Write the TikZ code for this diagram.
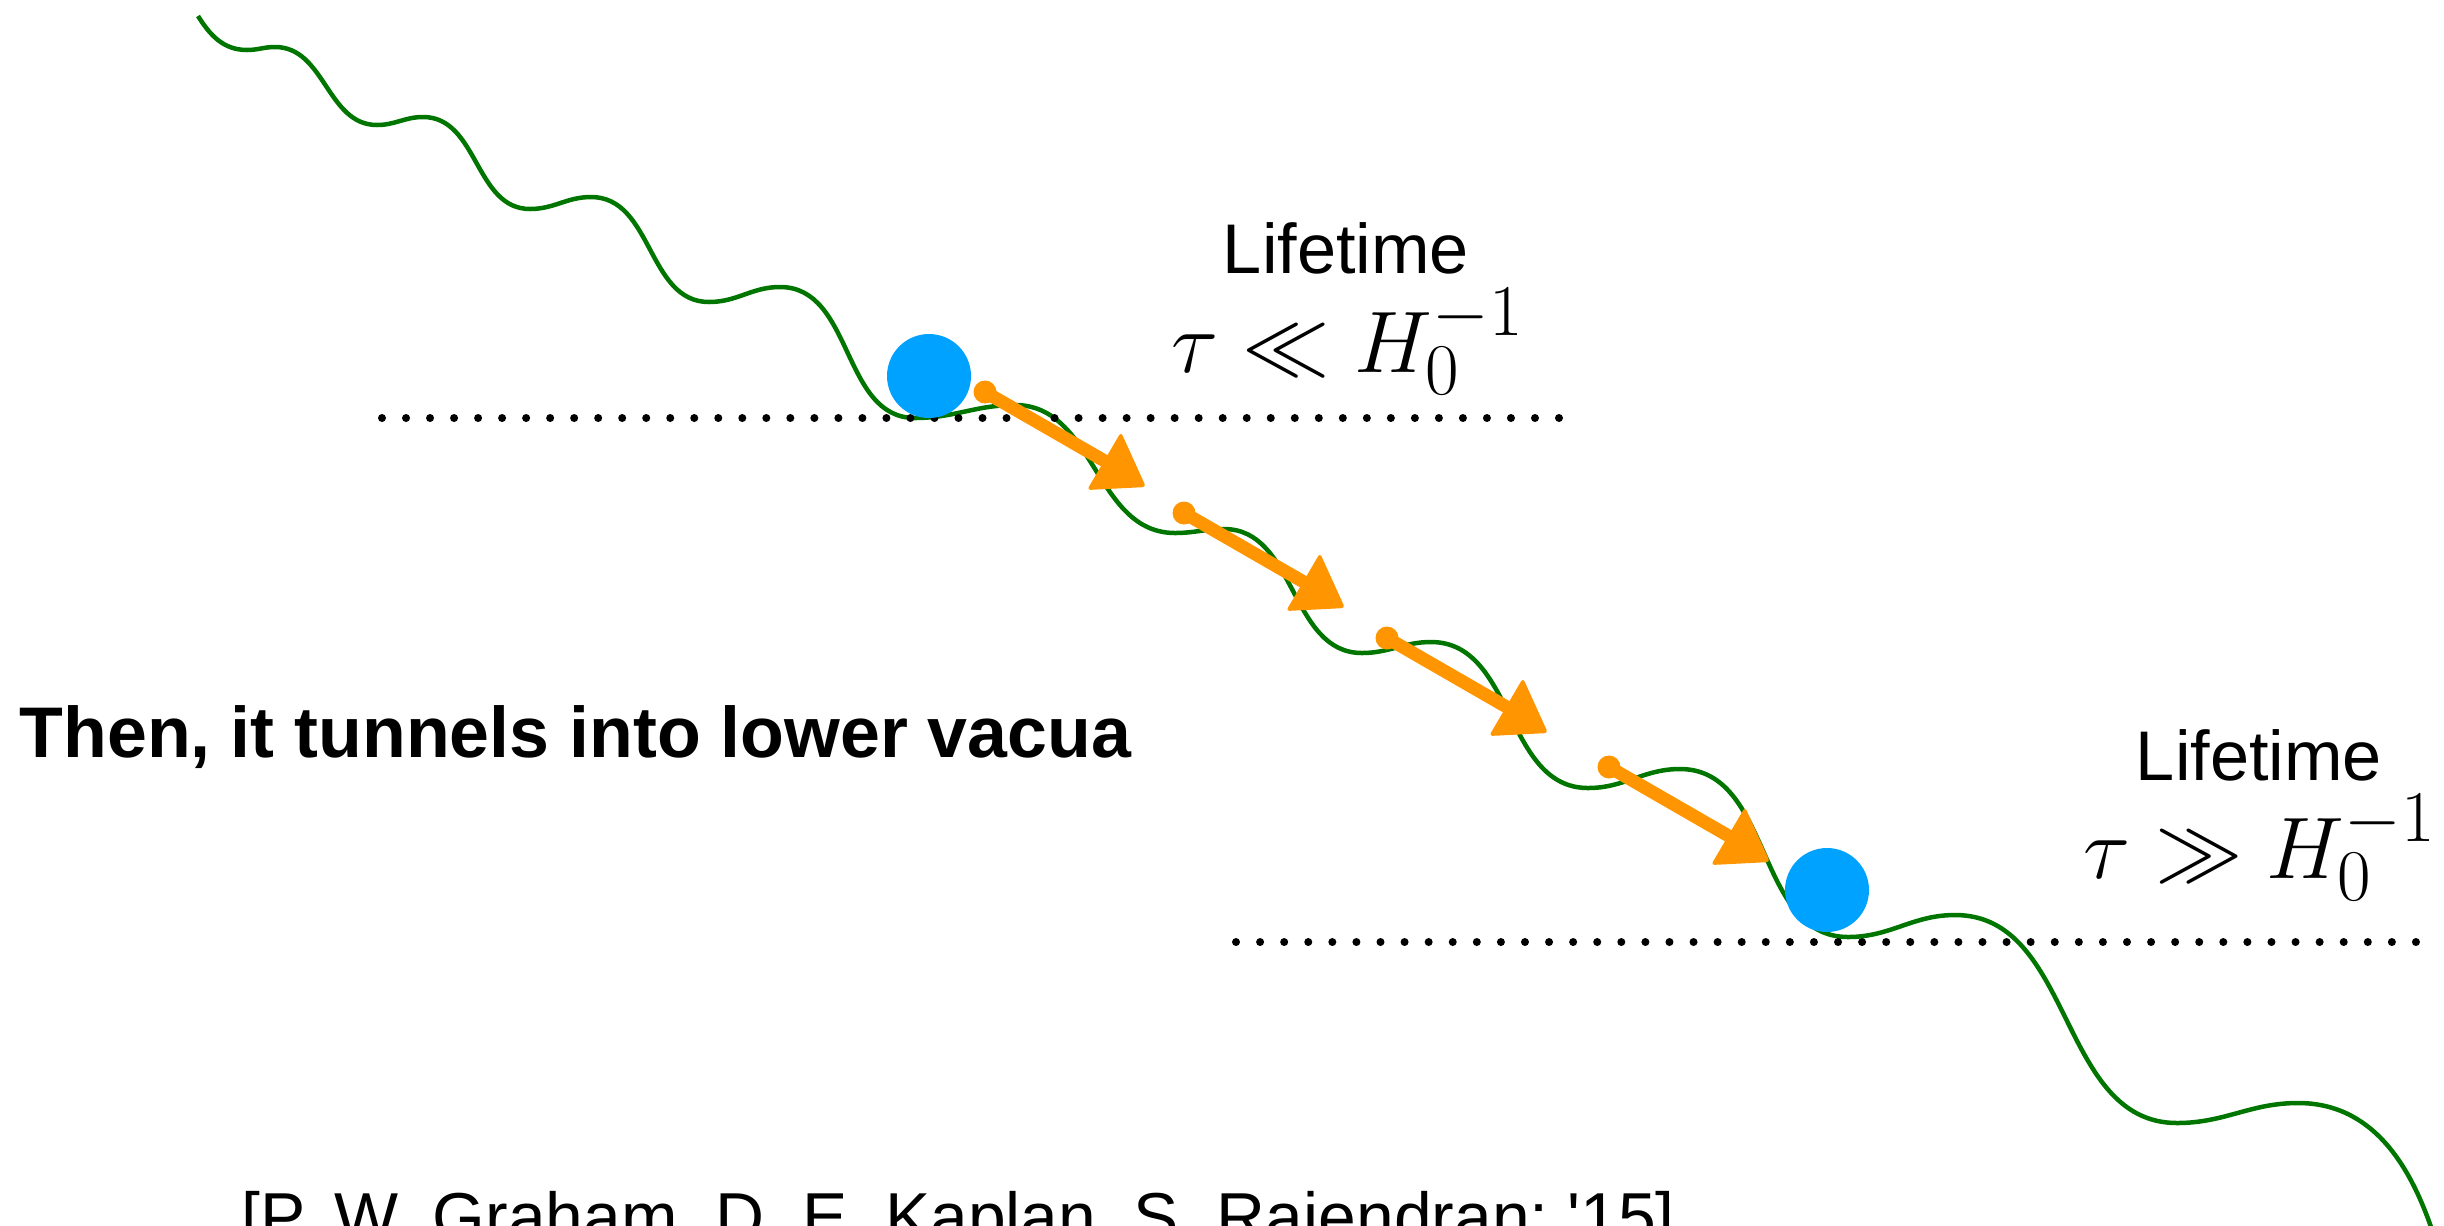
\documentclass[tikz,border=0pt]{standalone}
\usepackage{fontspec}
\newfontfamily\helv{Liberation Sans}

\definecolor{vacgreen}{RGB}{0,118,0}
\definecolor{ballblue}{RGB}{0,162,255}
\definecolor{tunnelorange}{RGB}{255,149,0}

\begin{document}
\begin{tikzpicture}[
    x=0.1mm, y=0.1mm,
    potential/.style={draw=vacgreen, line width=0.45mm},
    ball/.style={circle, fill=ballblue, minimum size=8.4mm, inner sep=0pt},
    tunnel/.style={draw=tunnelorange, line width=1.3mm, line cap=round},
    txt/.style={inner sep=0pt, anchor=base}
]
    \useasboundingbox (0,0) rectangle (2444,-1225);
    \clip (0,0) rectangle (2444,-1225);

    % Potential
    \draw[potential] (198,-16) to[out=-58,in=180] (247,-50) to[out=0,in=180] (275,-47)
        to[out=0,in=180] (377,-125) to[out=0,in=180] (423,-117)
        to[out=0,in=180] (530,-209) to[out=0,in=180] (591,-197)
        to[out=0,in=180] (709,-302) to[out=0,in=180] (780,-287)
        to[out=0,in=180] (915,-418) to[out=0,in=180] (1015,-405)
        to[out=0,in=180] (1175,-533) to[out=0,in=180] (1224,-529)
        to[out=0,in=180] (1362,-653) to[out=0,in=180] (1431,-642)
        to[out=0,in=180] (1588,-788) to[out=0,in=180] (1680,-769)
        to[out=0,in=180] (1848,-937) to[out=0,in=180] (1955,-915)
        to[out=0,in=180] (2177,-1123) to[out=0,in=180] (2298,-1103)
        to[out=0,in=108] (2434,-1236);

    % Vacuum levels
    \foreach \k in {0,...,49} {
        \fill (382+\k*24.02,-418) circle (0.4mm);
        \fill (1236+\k*24.08,-942) circle (0.4mm);
    }

    % Balls
    \node[ball] (upper) at (929,-376) {};
    \node[ball] (lower) at (1827,-890) {};

    % Tunnelling steps
    \foreach \n/\x/\y in {1/985/392, 2/1184/513, 3/1387/638, 4/1609/767} {
        \coordinate (tail\n) at (\x,-\y);
        \coordinate (tip\n) at ([shift={(118,-68)}]tail\n);
        \fill[tunnelorange] (tail\n) circle (1.15mm);
        \draw[tunnel] (tail\n) -- (tip\n);
        \fill[tunnelorange, rounded corners=1pt] ([shift={(136,-40)}]tail\n)
            -- ([shift={(102,-98)}]tail\n) -- ([shift={(161,-95)}]tail\n) -- cycle;
    }

    % Labels
    \node[txt, anchor=base west, font=\helv\bfseries\fontsize{20.4}{24}\selectfont] (tunnels) at (19,-757) {Then, it tunnels into lower vacua};
    \node[txt, font=\helv\fontsize{20}{24}\selectfont] (life1) at (1346,-273) {Lifetime};
    \node[txt, font=\fontsize{24.88}{30}\selectfont] (tau1) at (1348,-372) {$\tau \ll H_0^{-1}$};
    \node[txt, font=\helv\fontsize{20}{24}\selectfont] (life2) at (2259,-780) {Lifetime};
    \node[txt, font=\fontsize{24.88}{30}\selectfont] (tau2) at (2260,-878) {$\tau \gg H_0^{-1}$};
    \node[txt, anchor=base west, font=\helv\fontsize{19.3}{23}\selectfont] (cite) at (241,-1240) {[P. W. Graham, D. E. Kaplan, S. Rajendran; '15]};
\end{tikzpicture}
\end{document}
